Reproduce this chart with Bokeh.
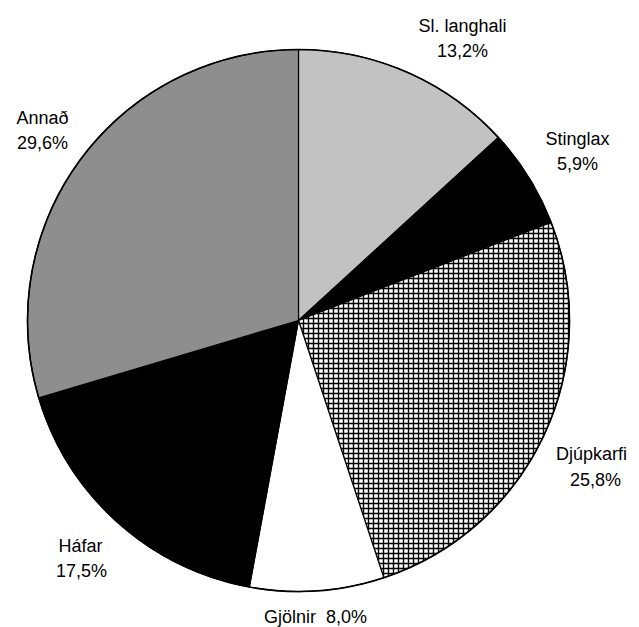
import numpy as np
from bokeh.plotting import figure
from bokeh.models import Range1d, ColumnDataSource
from bokeh.core.properties import value
from bokeh.embed import file_html
from bokeh.resources import INLINE

# ---- data ----
categories = ["Sl. langhali", "Stinglax", "Djúpkarfi", "Gjölnir", "Háfar", "Annað"]
shares = [13.2, 5.9, 25.8, 8.0, 17.5, 29.6]

# ---- styles ----
fills = ["#c2c2c2", "#000000", "#ffffff", "#ffffff", "#000000", "#8e8e8e"]
hatches = [" ", " ", "+", " ", " ", " "]

W, H = 639, 627
p = figure(width=W, height=H, output_backend="svg", toolbar_location=None,
           x_range=Range1d(0, W), y_range=Range1d(0, H),
           min_border=0, outline_line_color=None)
p.axis.visible = False
p.grid.visible = False
p.background_fill_color = "white"

frac = np.array(shares) / np.sum(shares)
cum = np.concatenate([[0], np.cumsum(frac)])
start = np.pi / 2 - 2 * np.pi * cum[:-1]
end = np.pi / 2 - 2 * np.pi * cum[1:]

cx, cy, r = 298, 627 - 320, 271
src = ColumnDataSource(dict(cat=categories, start=start, end=end,
                            fill=fills, hatch=hatches))
p.wedge(x=cx, y=cy, radius=r, start_angle="start", end_angle="end",
        direction="clock", source=src, fill_color="fill",
        hatch_pattern="hatch", hatch_color="black", hatch_scale=5,
        hatch_weight=1.4, line_color="black", line_width=1.2)
# outer rim
p.circle(x=[cx], y=[cy], radius=r, fill_color=None, line_color="black", line_width=1.6)

# ---- labels (image coords -> data coords y = 627 - y_img) ----
pct = [f"{v:.1f}".replace(".", ",") + "%" for v in shares]
name_pos = {"Sl. langhali": (462, 25), "Stinglax": (577, 138), "Djúpkarfi": (591, 453),
            "Háfar": (80, 545), "Annað": (42, 117)}
pct_pos = {"Sl. langhali": (462, 50), "Stinglax": (577, 163), "Djúpkarfi": (595, 479),
           "Háfar": (81, 570), "Annað": (42, 142)}

tx, ty, tt = [], [], []
for c, s in zip(categories, pct):
    if c == "Gjölnir":
        tx.append(315); ty.append(627 - 616); tt.append(f"{c}\u00a0\u00a0{s}")
        continue
    nx, ny = name_pos[c]
    px_, py_ = pct_pos[c]
    tx += [nx, px_]; ty += [627 - ny, 627 - py_]; tt += [c, s]

p.text(x=tx, y=ty, text=tt, text_align="center", text_baseline="middle",
       text_font=value("Liberation Sans"), text_font_size="18px", text_color="black")

open("out.html", "w").write(file_html(p, INLINE))
